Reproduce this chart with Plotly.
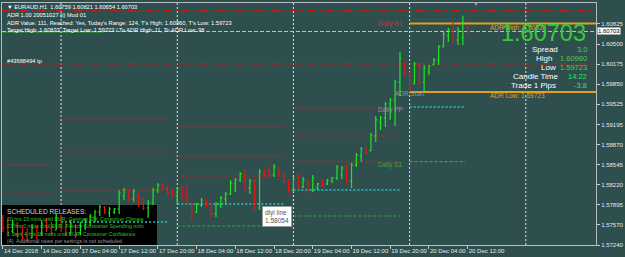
import plotly.graph_objects as go

# ---------------- data ----------------
bar_idx = list(range(97))  # H1 bars, 14 Dec 12:00 ... 20 Dec 12:00

opens = [1.57678,1.57548,1.57467,1.57581,1.57435,1.57386,1.57354,1.57516,1.57419,1.57613,
         1.57516,1.57483,1.57678,1.57516,1.57435,1.57548,1.57435,1.57548,1.57613,1.57694,
         1.57775,1.57856,1.57759,1.57775,1.57824,1.58035,1.58116,1.57986,1.58067,1.57921,
         1.57840,1.57921,1.58132,1.58213,1.58165,1.58100,1.58035,1.58149,1.58051,1.57921,
         1.57775,1.57889,1.57970,1.57889,1.57743,1.57889,1.57986,1.58067,1.58230,1.58294,
         1.58392,1.58165,1.58278,1.57840,1.58440,1.58457,1.58375,1.58489,1.58375,1.58278,
         1.58132,1.58327,1.58181,1.58278,1.58132,1.58165,1.58278,1.58230,1.58278,1.58327,
         1.58375,1.58489,1.58278,1.58538,1.58684,1.58797,1.58765,1.59008,1.59235,1.59300,
         1.59527,1.59592,1.59884,1.60208,1.60046,1.59852,1.60176,1.59884,1.60046,1.60160,
         1.60241,1.60452,1.60630,1.60727,1.60565,1.60598,1.60759]
highs = [1.57727,1.57678,1.57646,1.57613,1.57564,1.57516,1.57581,1.57548,1.57646,1.57678,
         1.57613,1.57743,1.57727,1.57613,1.57646,1.57581,1.57613,1.57678,1.57743,1.57808,
         1.57889,1.57873,1.57856,1.57840,1.58132,1.58165,1.58132,1.58149,1.58084,1.58003,
         1.57970,1.58165,1.58246,1.58246,1.58197,1.58149,1.58165,1.58197,1.58197,1.57938,
         1.57921,1.58003,1.57970,1.57921,1.57938,1.58035,1.58100,1.58294,1.58327,1.58424,
         1.58473,1.58311,1.58311,1.58473,1.58473,1.58521,1.58554,1.58489,1.58408,1.58311,
         1.58343,1.58408,1.58343,1.58294,1.58375,1.58246,1.58311,1.58311,1.58343,1.58538,
         1.58521,1.58538,1.58570,1.58733,1.58830,1.58830,1.59057,1.59333,1.59333,1.59560,
         1.59624,1.59916,1.60371,1.60208,1.60046,1.60208,1.60208,1.60160,1.60160,1.60273,
         1.60484,1.60695,1.60760,1.60841,1.60776,1.60960,1.60821]
lows = [1.57451,1.57386,1.57435,1.57354,1.57321,1.57289,1.57354,1.57321,1.57386,1.57451,
        1.57386,1.57483,1.57451,1.57386,1.57419,1.57354,1.57402,1.57483,1.57548,1.57613,
        1.57710,1.57743,1.57694,1.57743,1.57743,1.57970,1.57938,1.57938,1.57856,1.57808,
        1.57678,1.57889,1.58084,1.58132,1.58051,1.58019,1.57921,1.57970,1.57905,1.57662,
        1.57759,1.57856,1.57856,1.57694,1.57694,1.57840,1.57889,1.58051,1.58100,1.58262,
        1.58116,1.58067,1.57808,1.57808,1.58343,1.58359,1.58343,1.58343,1.58246,1.58084,
        1.58100,1.58132,1.58165,1.58084,1.58100,1.58132,1.58181,1.58213,1.58246,1.58294,
        1.58311,1.58246,1.58165,1.58505,1.58586,1.58716,1.58765,1.58911,1.59105,1.59154,
        1.59268,1.59170,1.59657,1.59997,1.59723,1.59852,1.59835,1.59738,1.59997,1.60160,
        1.60160,1.60452,1.60533,1.60517,1.60484,1.60484,1.60654]
closes = [1.57516,1.57451,1.57581,1.57419,1.57354,1.57321,1.57516,1.57402,1.57581,1.57516,
          1.57435,1.57678,1.57516,1.57419,1.57581,1.57402,1.57548,1.57646,1.57710,1.57775,
          1.57856,1.57775,1.57824,1.57824,1.58084,1.58132,1.57986,1.58116,1.57905,1.57840,
          1.57921,1.58132,1.58213,1.58149,1.58084,1.58051,1.58149,1.58019,1.57938,1.57710,
          1.57889,1.57970,1.57889,1.57743,1.57905,1.58003,1.58067,1.58246,1.58294,1.58392,
          1.58165,1.58278,1.57840,1.58424,1.58375,1.58375,1.58505,1.58375,1.58278,1.58116,
          1.58311,1.58165,1.58294,1.58132,1.58327,1.58230,1.58197,1.58294,1.58327,1.58505,
          1.58489,1.58278,1.58538,1.58700,1.58797,1.58733,1.59024,1.59268,1.59300,1.59527,
          1.59592,1.59884,1.60273,1.60046,1.59787,1.60176,1.59884,1.60111,1.60143,1.60241,
          1.60452,1.60663,1.60727,1.60565,1.60727,1.60857,1.60703]

time_tick_idx = [0, 8, 16, 24, 32, 40, 48, 56, 64, 72, 80, 88, 96]
time_tick_text = ["14 Dec 2018", "14 Dec 20:00", "17 Dec 04:00", "17 Dec 12:00", "17 Dec 20:00",
                  "18 Dec 04:00", "18 Dec 12:00", "18 Dec 20:00", "19 Dec 04:00", "19 Dec 12:00",
                  "19 Dec 20:00", "20 Dec 04:00", "20 Dec 12:00"]
day_separators = [12, 36, 60, 84, 108]

price_ticks = [1.60825, 1.60500, 1.60175, 1.59850, 1.59525, 1.59195, 1.58870,
               1.58545, 1.58220, 1.57895, 1.57570, 1.57240]
price_tick_text = ["%.5f" % v for v in price_ticks]

# daily pivot segments
piv_start = [0, 12, 36, 60, 84]
piv_end = [10.2, 34, 58, 82, 95.5]
piv_red = [[1.58538, 1.58100], [1.59284, 1.58749, 1.58132], [1.59170, 1.58684, 1.58359],
           [1.59462, 1.59008, 1.58586], [1.60898]]
piv_pp = [None, 1.57613, 1.57905, 1.58132, 1.59478]
piv_s1 = [None, None, 1.57548, 1.57710, 1.58591]

order_sl = 1.61040
order_tp = 1.60179
order_open = 1.60695
bid = 1.60703
adr_high = 1.60833
adr_low = 1.59723
adr_start = 84

header_lines = ["\u25bc EURAUD,H1  1.60759 1.60821 1.60654 1.60703",
                "ADR 1.00 20051027 (t) Mod 01",
                "ADR Value: 111, Reached: Yes, Today's Range: 124, T's High: 1.60960, T's Low: 1.59723",
                "Target High: 1.60833, Target Low: 1.59723 / To ADR High: 11, To ADR Low: 98"]
news_title = "SCHEDULED RELEASES:"
news_lines = ["20 hrs 15 mins until EUR: German GfK Consumer Climate",
              "21 hrs 0 mins until EUR: French Consumer Spending m/m",
              "1 days 4 hrs 15 mins until EUR: Consumer Confidence"]
news_footer = "(4)  Additional news per settings is not scheduled"
panel_labels = ["Spread", "High", "Low", "Candle Time", "Trade 1 Pips"]
panel_values = ["3.0", "1.60960", "1.59723", "14:22", "-3.8"]

# ---------------- figure ----------------
BG = "#2f4f4f"
FONT = "Liberation Sans, Arial, sans-serif"
L, T, PW, PH = 1, 3, 598, 242


def px(x):
    return (x - L) / PW


def py(y):
    return 1 - (y - T) / PH


fig = go.Figure()
fig.add_trace(go.Ohlc(x=bar_idx, open=opens, high=highs, low=lows, close=closes,
                      increasing=dict(line=dict(color="#1ee61e", width=1.2)),
                      decreasing=dict(line=dict(color="#e61414", width=1.2)),
                      tickwidth=0.3, showlegend=False, hoverinfo="skip"))

shapes = []
for s, e, reds, pp, s1 in zip(piv_start, piv_end, piv_red, piv_pp, piv_s1):
    for v in reds:
        shapes.append(dict(type="line", xref="x", yref="y", x0=s, x1=e, y0=v, y1=v, layer="below",
                           line=dict(color="#d42020", width=1, dash="2px,2px")))
    if pp is not None:
        shapes.append(dict(type="line", xref="x", yref="y", x0=s, x1=e, y0=pp, y1=pp, layer="below",
                           line=dict(color="#29c4c8", width=1.4, dash="2px,2px")))
    if s1 is not None:
        shapes.append(dict(type="line", xref="x", yref="y", x0=s, x1=e, y0=s1, y1=s1, layer="below",
                           line=dict(color="#35a835", width=1.2, dash="3px,2px")))
for d in day_separators:
    shapes.append(dict(type="line", xref="x", yref="paper", x0=d, x1=d, y0=0, y1=1, layer="below",
                       line=dict(color="#e6e6e6", width=1, dash="2px,2px")))
for v in (order_sl, order_tp):
    shapes.append(dict(type="line", xref="paper", yref="y", x0=0, x1=1, y0=v, y1=v, layer="below",
                       line=dict(color="#c81818", width=1.3, dash="8px,4px,2px,4px")))
shapes.append(dict(type="line", xref="paper", yref="y", x0=0, x1=0.17, y0=order_open, y1=order_open,
                   layer="below", line=dict(color="#2fb52f", width=1)))
shapes.append(dict(type="line", xref="paper", yref="y", x0=0, x1=1, y0=bid, y1=bid, layer="below",
                   line=dict(color="#b8c4c4", width=1, dash="4px,2px")))
for v in (adr_high, adr_low):
    shapes.append(dict(type="line", xref="x", yref="y", x0=adr_start, x1=123, y0=v, y1=v, layer="below",
                       line=dict(color="#e0a020", width=2)))
shapes.append(dict(type="rect", xref="paper", yref="paper", x0=px(1), x1=px(157), y0=py(245), y1=py(205),
                   layer="below", fillcolor="#000000", line=dict(width=0)))

ann = []


def text(x, y, s, size=6, color="#ffffff", xanchor="left", yanchor="middle", family=FONT, **kw):
    ann.append(dict(xref="paper", yref="paper", x=px(x), y=py(y), text=s, showarrow=False,
                    xanchor=xanchor, yanchor=yanchor, font=dict(size=size, color=color, family=family),
                    **kw))


for k, line in enumerate(header_lines):
    text(4, 6.7 + k * 7.9, line, size=5.7)
text(4, 60.5, "#43688494 tp", size=5.7)

text(407, 24, "Daily R1", size=6.5, color="#e02424", xanchor="right")
text(407, 110, "Daily PP", size=6.5, color="#8a9a9a", xanchor="right")
text(407, 165, "Daily S1", size=6.5, color="#3aa83a", xanchor="right")
text(395, 93.5, "ADR Start", size=6.5, color="#8a9a9a")
text(490, 27.5, "ADR High: %.5f" % adr_high, size=6.5, color="#e0a020")
text(490, 96, "ADR Low: %.5f" % adr_low, size=6.5, color="#e0a020")

# right panel
text(591, 32.5, "1.60703", size=23.5, color="#33cc33", xanchor="right")
panel_y = [49, 58, 67, 76, 85]
label_right = [563, 557, 561, 563, 561]
value_cols = ["#4ccc4c", "#4ccc4c", "#4ccc4c", "#22ee55", "#22ee55"]
for lab, val, yy, lr, vc in zip(panel_labels, panel_values, panel_y, label_right, value_cols):
    text(lr, yy, lab, size=8, color="#ffffff", xanchor="right")
    text(592, yy, val, size=7.5, color=vc, xanchor="right")

text(4, 211.5, news_title, size=6.6, color="#d8d8d8")
for k, line in enumerate(news_lines):
    text(4, 218.5 + k * 7.5, line, size=5.3, color="#22cc22")
text(4, 240.5, news_footer, size=5.3, color="#9a9a9a")

ann.append(dict(xref="paper", yref="paper", x=px(263), y=py(206), xanchor="left", yanchor="top",
                text="dlyl line<br>1.58054", showarrow=False, align="left", bgcolor="#ffffff",
                bordercolor="#9a9a9a", borderwidth=1, borderpad=2,
                font=dict(size=6.5, color="#555555", family=FONT)))

ann.append(dict(xref="paper", yref="y", x=px(600.5), y=bid, xanchor="left", yanchor="middle",
                text="1.60703", showarrow=False, bgcolor="#ffffff", borderpad=0,
                font=dict(size=6, color="#000000", family=FONT)))
text(478, 3.5, "\u25bc", size=6, color="#9aa6a6", xanchor="center")

fig.update_layout(
    width=625, height=257, margin=dict(l=L, r=625 - L - PW, t=T, b=257 - T - PH),
    paper_bgcolor=BG, plot_bgcolor=BG, showlegend=False, hovermode=False,
    shapes=shapes, annotations=ann,
    xaxis=dict(range=[-0.2, 122.5], tickvals=time_tick_idx, ticktext=time_tick_text, tickangle=0,
               ticks="outside", ticklen=3, tickcolor="#c8c8c8", ticklabelposition="outside right",
               tickfont=dict(size=6, color="#e8e8e8", family=FONT), showgrid=False, zeroline=False,
               showline=True, linecolor="#b4bcbc", linewidth=1, mirror=True,
               rangeslider=dict(visible=False), fixedrange=True),
    yaxis=dict(side="right", range=[1.57240, 1.61165], tickvals=price_ticks, ticktext=price_tick_text,
               ticks="outside", ticklen=3, tickcolor="#c8c8c8",
               tickfont=dict(size=6, color="#e8e8e8", family=FONT), showgrid=False, zeroline=False,
               showline=True, linecolor="#b4bcbc", linewidth=1, mirror=True, fixedrange=True),
)

fig.write_html("out.html")
